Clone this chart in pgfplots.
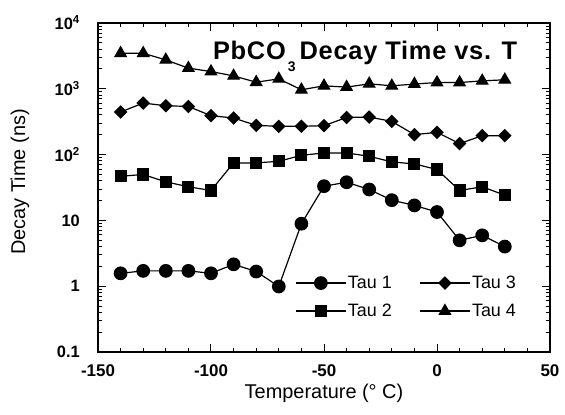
\documentclass[border=0pt]{standalone}
\usepackage{fontspec}
\setmainfont{Liberation Sans}
\usepackage{pgfplots}
\pgfplotsset{compat=1.18}
\begin{document}
\begin{tikzpicture}
\begin{axis}[
  scale only axis, width=452bp, height=329bp,
  xmin=-150, xmax=50, ymode=log, ymin=0.1, ymax=10000,
  xtick={-150,-100,-50,0,50},
  xticklabels={-150,-100,-50,0,50},
  minor xtick={-140,-130,-120,-110,-90,-80,-70,-60,-40,-30,-20,-10,10,20,30,40},
  ytick={0.1,1,10,100,1000,10000},
  yticklabels={0.1,1,10,10\textsuperscript{2},10\textsuperscript{3},10\textsuperscript{4}},
  minor ytick={0.2,0.3,0.4,0.5,0.6,0.7,0.8,0.9,2,3,4,5,6,7,8,9,20,30,40,50,60,70,80,90,200,300,400,500,600,700,800,900,2000,3000,4000,5000,6000,7000,8000,9000},
  major tick length=8bp, minor tick length=4bp,
  tick style={black, line width=1bp},
  axis line style={line width=1.2bp},
  tick align=inside,
  xticklabel style={font=\bfseries\fontsize{17}{19}\selectfont, anchor=base, yshift=-24bp, inner sep=0pt},
  yticklabel style={font=\bfseries\fontsize{16.5}{18}\selectfont, anchor=east, xshift=-18bp, inner sep=0pt},
  xlabel={Temperature (° C)},
  ylabel={Decay Time (ns)},
  every axis x label/.style={at={(rel axis cs:0.5,0)}, yshift=-41bp, anchor=center, font=\fontsize{20}{22}\selectfont},
  every axis y label/.style={at={(rel axis cs:0,0.517)}, xshift=-78bp, rotate=90, anchor=center, font=\fontsize{20}{22}\selectfont},
  legend columns=2,
  legend style={at={(rel axis cs:0.436,0.236)}, anchor=north west, draw=none, fill=none, inner sep=0pt,
    font=\fontsize{18}{20}\selectfont, row sep=11bp, nodes={inner sep=1.5bp},
    /tikz/every even column/.append style={column sep=26bp}},
  legend image code/.code={\draw[mark repeat=2, mark phase=2] plot coordinates {(0bp,0bp) (25bp,0bp) (50bp,0bp)};},
  every axis plot/.append style={black, line width=1.2bp, mark options={solid, fill=black}},
]
\addplot[mark=*, mark size=6.3] coordinates {
(-140,1.57) (-130,1.71) (-120,1.71) (-110,1.71) (-100,1.57) (-90,2.15) (-80,1.67) (-70,0.99)
(-60,8.9) (-50,33.1) (-40,38) (-30,29.5) (-20,20.3) (-10,16.9) (0,13.4) (10,4.98) (20,5.93) (30,4.0)};
\addlegendentry{Tau 1}
\addplot[mark=square*, mark size=4.2, mark options={rotate=45}] coordinates {
(-140,444) (-130,607) (-120,553) (-110,539) (-100,390) (-90,360) (-80,278) (-70,269)
(-60,269) (-50,275) (-40,367) (-30,372) (-20,320) (-10,201) (0,218) (10,147) (20,194) (30,194)};
\addlegendentry{Tau 3}
\addplot[mark=square*, mark size=5.5] coordinates {
(-140,46.9) (-130,49.8) (-120,38.6) (-110,32.4) (-100,28.5) (-90,74.8) (-80,74.8) (-70,79.1)
(-60,97.5) (-50,106) (-40,106) (-30,94.2) (-20,77.4) (-10,72.2) (0,59.3) (10,28.5) (20,32.4) (30,24.2)};
\addlegendentry{Tau 2}
\addplot[mark=triangle*, mark size=6.5] coordinates {
(-140,3470) (-130,3470) (-120,2750) (-110,2060) (-100,1830) (-90,1570) (-80,1260) (-70,1415)
(-60,966) (-50,1110) (-40,1060) (-30,1190) (-20,1110) (-10,1180) (0,1245) (10,1245) (20,1320) (30,1370)};
\addlegendentry{Tau 4}
\node[anchor=base west, inner sep=0pt, font=\bfseries\fontsize{25.5}{28}\selectfont\addfontfeatures{LetterSpace=3}] at (rel axis cs:0.254,0.888)
  {PbCO\hspace{2bp}\raisebox{-12bp}{\fontsize{14}{14}\selectfont 3}\hspace{4bp}Decay Time vs. T};
\end{axis}
\pgfresetboundingbox
\path[use as bounding box] ([shift={(-98bp,-63bp)}]current axis.south west) rectangle ([shift={(15bp,23bp)}]current axis.north east);
\end{tikzpicture}
\end{document}
